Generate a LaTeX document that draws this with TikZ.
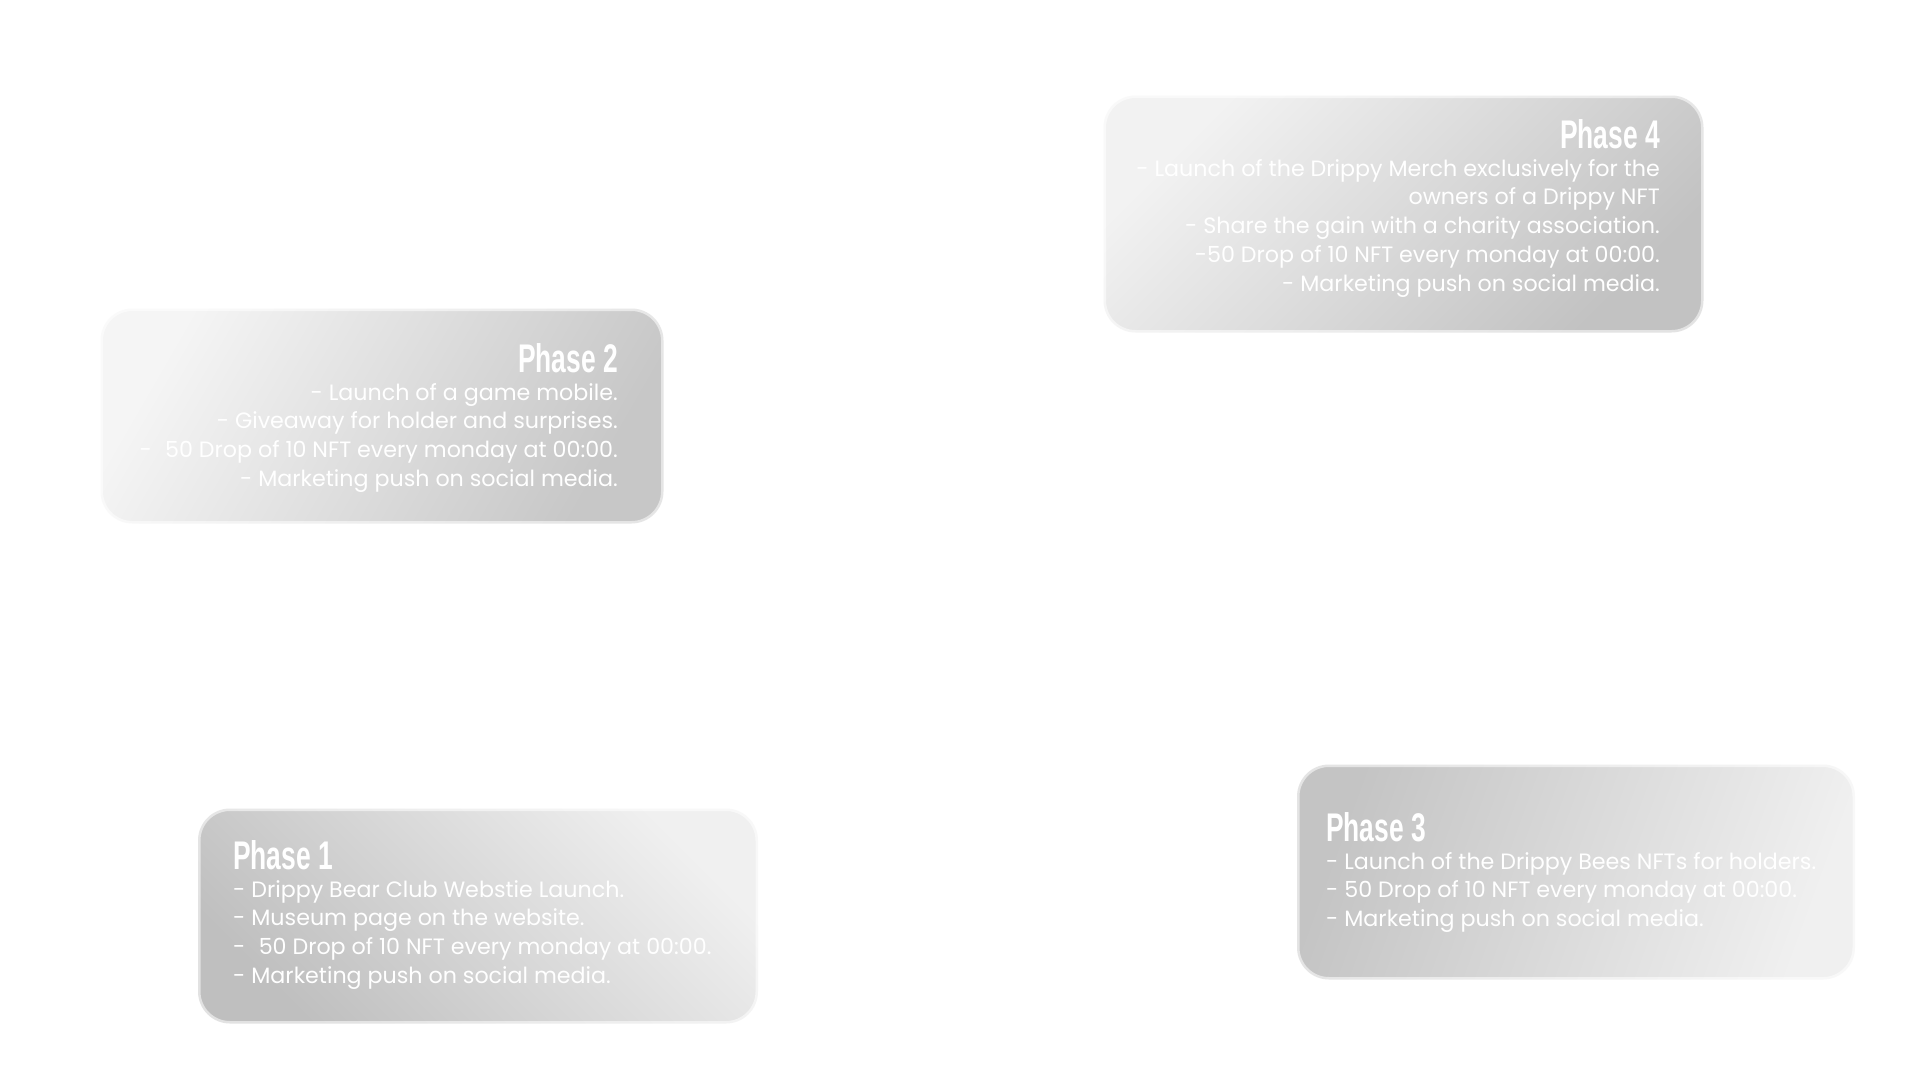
\documentclass[tikz,border=0pt]{standalone}
\usepackage{fontspec}
\setmainfont{Poppins}
\newfontfamily\titlefont[FakeStretch=0.66]{Liberation Sans}
\begin{document}
\begin{tikzpicture}[x=1pt,y=-1pt,
  phasebox/.style={rounded corners=32pt, draw=white, draw opacity=0.55, line width=5pt, inner sep=0pt},
  titletext/.style={inner sep=0pt, text=white, font=\titlefont\bfseries\fontsize{40}{40}\selectfont},
  bodytext/.style={inner sep=0pt, text=white, font=\fontsize{22.2}{28.8}\selectfont}]
\useasboundingbox[fill=white] (0,0) rectangle (1920,1080);

% Phase 4
\node[phasebox, minimum width=600pt, minimum height=237pt,
  top color=black!5, bottom color=black!24, shading angle=45] (p4box) at (1403.5,214) {};
\node[titletext, anchor=base east] (p4title) at (1660,148) {Phase 4};
\node[bodytext, anchor=base east] (p4body) at (1660,176)
  {\begin{tabular}[t]{@{}r@{}}
   - Launch of the Drippy Merch exclusively for the\\
   owners of a Drippy NFT\\
   - Share the gain with a charity association.\\
   -50 Drop of 10 NFT every monday at 00:00.\\
   - Marketing push on social media.
   \end{tabular}};

% Phase 2
\node[phasebox, minimum width=563pt, minimum height=215pt,
  top color=black!4, bottom color=black!22, shading angle=60] (p2box) at (382,416) {};
\node[titletext, anchor=base east] (p2title) at (618,372) {Phase 2};
\node[bodytext, anchor=base east] (p2body) at (618,400)
  {\begin{tabular}[t]{@{}r@{}}
   - Launch of a game mobile.\\
   - Giveaway for holder and surprises.\\
   -\hspace{0.6em}50 Drop of 10 NFT every monday at 00:00.\\
   - Marketing push on social media.
   \end{tabular}};

% Phase 1
\node[phasebox, minimum width=560pt, minimum height=215pt,
  top color=black!6, bottom color=black!25, shading angle=-45] (p1box) at (478,916) {};
\node[titletext, anchor=base west] (p1title) at (233,869) {Phase 1};
\node[bodytext, anchor=base west] (p1body) at (233,897)
  {\begin{tabular}[t]{@{}l@{}}
   - Drippy Bear Club Webstie Launch.\\
   - Museum page on the website.\\
   -\hspace{0.6em}50 Drop of 10 NFT every monday at 00:00.\\
   - Marketing push on social media.
   \end{tabular}};

% Phase 3
\node[phasebox, minimum width=558pt, minimum height=215pt,
  top color=black!6, bottom color=black!23, shading angle=-110] (p3box) at (1576,872) {};
\node[titletext, anchor=base west] (p3title) at (1326,841) {Phase 3};
\node[bodytext, anchor=base west] (p3body) at (1326,869)
  {\begin{tabular}[t]{@{}l@{}}
   - Launch of the Drippy Bees NFTs for holders.\\
   - 50 Drop of 10 NFT every monday at 00:00.\\
   - Marketing push on social media.
   \end{tabular}};
\end{tikzpicture}
\end{document}
